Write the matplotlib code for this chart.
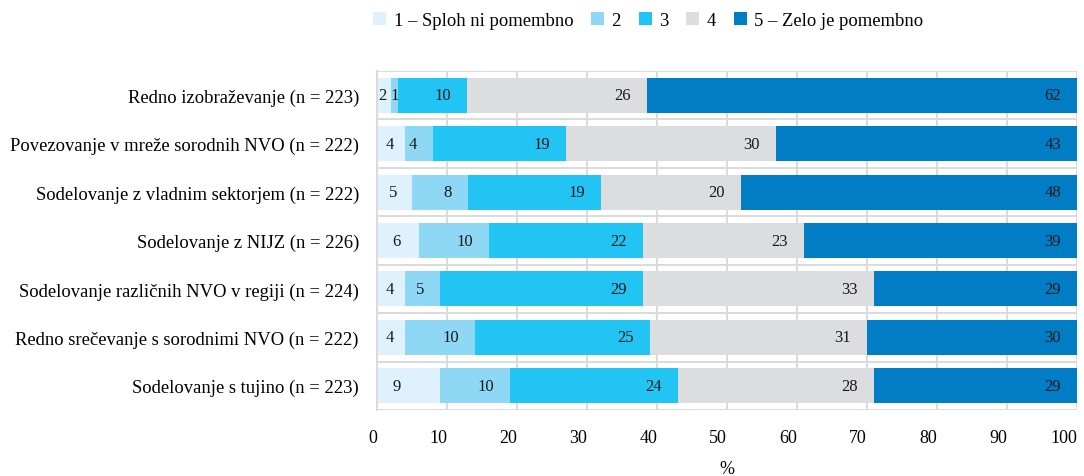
import numpy as np
import matplotlib
matplotlib.use('Agg')
import matplotlib.pyplot as plt
from matplotlib.patches import Patch

# data
categories = ['Redno izobraževanje (n = 223)',
              'Povezovanje v mreže sorodnih NVO (n = 222)',
              'Sodelovanje z vladnim sektorjem (n = 222)',
              'Sodelovanje z NIJZ (n = 226)',
              'Sodelovanje različnih NVO v regiji (n = 224)',
              'Redno srečevanje s sorodnimi NVO (n = 222)',
              'Sodelovanje s tujino (n = 223)']
legend_labels = ['1 – Sploh ni pomembno', '2', '3', '4', '5 – Zelo je pomembno']

# shares per answer (columns 1..5), one row per category
s1 = [2.0, 4, 5, 6, 4, 4, 9]
s2 = [1.0, 4, 8, 10, 5, 10, 10]
s3 = [9.9, 19, 19, 22, 29, 25, 24]
s4 = [25.7, 30, 20, 23, 33, 31, 28]
s5 = [61.4, 43, 48, 39, 29, 30, 29]

# printed labels (rounded in the source)
lab1 = [2, 4, 5, 6, 4, 4, 9]
lab2 = [1, 4, 8, 10, 5, 10, 10]
lab3 = [10, 19, 19, 22, 29, 25, 24]
lab4 = [26, 30, 20, 23, 33, 31, 28]
lab5 = [62, 43, 48, 39, 29, 30, 29]

colors = ['#dff1fc', '#8ed8f6', '#22c4f3', '#dcdddf', '#017dc5']
grid_col = '#dadada'

plt.rcParams['font.family'] = ['Liberation Serif', 'DejaVu Serif']

fig = plt.figure(figsize=(10.84, 4.77), dpi=100)
ax = fig.add_axes([377 / 1084, 1 - 411 / 477, 700 / 1084, 339 / 477])

y = np.arange(len(categories))
series = [s1, s2, s3, s4, s5]
labels = [lab1, lab2, lab3, lab4, lab5]

left = np.zeros(len(categories))
for k, (vals, labs) in enumerate(zip(series, labels)):
    vals = np.array(vals, dtype=float)
    ax.barh(y, vals, left=left, height=0.72, color=colors[k], zorder=2)
    for i in range(len(categories)):
        start, end = left[i], left[i] + vals[i]
        if k == 0:
            ax.text(min(2.8, end / 2 - 0.2), y[i], str(labs[i]), ha='center', va='center',
                    fontsize=12, color='#1a1a1a', zorder=3)
        elif vals[i] < 3.5:
            ax.text((start + end) / 2, y[i], str(labs[i]), ha='center', va='center',
                    fontsize=12, color='#1a1a1a', zorder=3)
        else:
            ax.text(min(end, 100) - 2.3, y[i], str(labs[i]), ha='right', va='center',
                    fontsize=12, color='#1a1a1a', zorder=3)
    left += vals

ax.set_xlim(0, 100)
ax.set_ylim(len(categories) - 0.5, -0.5)
ax.set_xticks(np.arange(0, 101, 10))
ax.set_yticks(y)
ax.set_yticklabels(categories, fontsize=13.4)
ax.set_yticks(np.arange(-0.5, len(categories), 1), minor=True)
ax.tick_params(axis='both', which='both', length=0)
ax.tick_params(axis='y', pad=13)
ax.tick_params(axis='x', pad=14, labelsize=13)
for lab in ax.get_xticklabels():
    lab.set_horizontalalignment('right')

ax.grid(True, axis='x', which='major', color=grid_col, linewidth=1.4, zorder=0)
ax.grid(True, axis='y', which='minor', color=grid_col, linewidth=1.4, zorder=0)
ax.set_axisbelow(True)
for side in ['top', 'right', 'bottom']:
    ax.spines[side].set_visible(False)
ax.spines['left'].set_color(grid_col)
ax.spines['left'].set_linewidth(1.4)

ax.set_xlabel('%', fontsize=13, labelpad=9.5)

handles = [Patch(facecolor=c, edgecolor='none') for c in colors]
fig.legend(handles, legend_labels, loc='center', bbox_to_anchor=(0.598, 0.954),
           ncol=5, frameon=False, fontsize=13.4, handlelength=0.7, handleheight=0.7,
           handletextpad=0.4, columnspacing=0.95)

fig.savefig('out.png', dpi=100)
